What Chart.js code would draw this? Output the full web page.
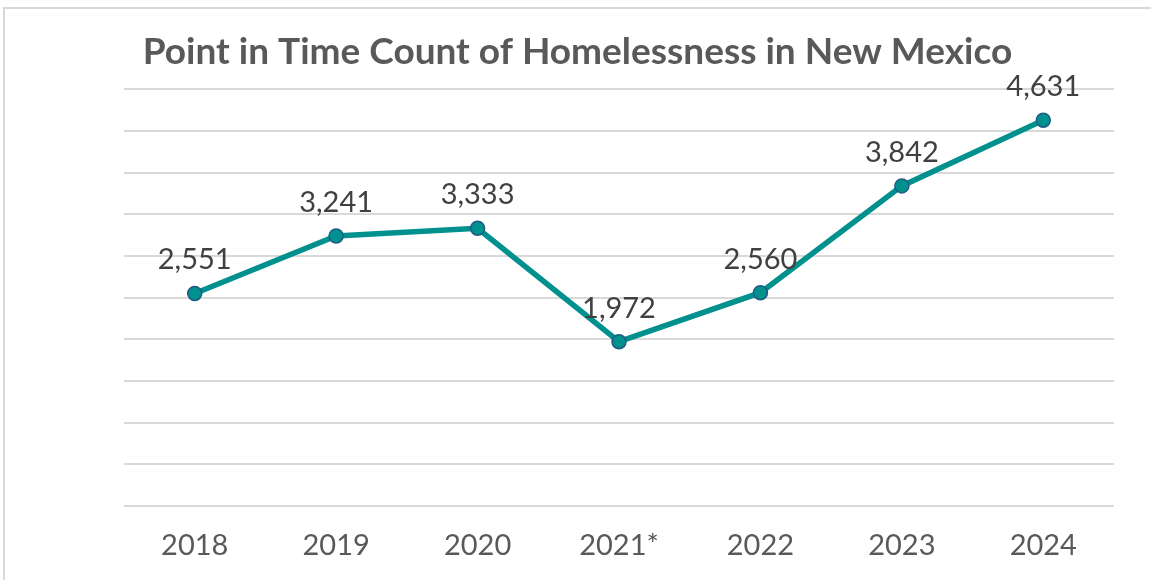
<!DOCTYPE html>
<html>
<head>
<meta charset="utf-8">
<script src="https://cdn.jsdelivr.net/npm/chart.js@4"></script>
<style>
    html, body { margin: 0; padding: 0; background: #fff; }
    #wrap { position: relative; width: 1151px; height: 580px; overflow: hidden; }
    #frame {
        position: absolute; left: 3px; top: 7px; width: 1200px; height: 600px;
        border-left: 2px solid #d9d9d9; border-top: 2px solid #d9d9d9;
    }
    canvas { position: absolute; left: 0; top: 0; }
</style>
</head>
<body>
<div id="wrap">
    <div id="frame"></div>
    <canvas id="chart" width="1151" height="580"></canvas>
</div>
<script>
    // Chart data
    const years = ['2018', '2019', '2020', '2021*', '2022', '2023', '2024'];
    const counts = [2551, 3241, 3333, 1972, 2560, 3842, 4631];
    const yTicks = [0, 500, 1000, 1500, 2000, 2500, 3000, 3500, 4000, 4500, 5000];

    const teal = '#00918e';
    const pointEdge = '#1f5b86';

    // Draw the value labels above each point
    const valueLabels = {
        id: 'valueLabels',
        afterDatasetsDraw(chart) {
            const ctx = chart.ctx;
            const meta = chart.getDatasetMeta(0);
            ctx.save();
            ctx.font = '29px Lato';
            ctx.fillStyle = '#404040';
            ctx.textAlign = 'center';
            ctx.textBaseline = 'alphabetic';
            meta.data.forEach(function(pt, i) {
                ctx.fillText(counts[i].toLocaleString('en-US'), pt.x, pt.y - 24);
            });
            ctx.restore();
        }
    };

    new Chart(document.getElementById('chart'), {
        type: 'line',
        data: {
            labels: years,
            datasets: [{
                data: counts,
                borderColor: teal,
                borderWidth: 5.5,
                backgroundColor: teal,
                pointBackgroundColor: teal,
                pointBorderColor: pointEdge,
                pointBorderWidth: 1.5,
                pointRadius: 7,
                tension: 0
            }]
        },
        options: {
            responsive: false,
            animation: false,
            layout: { padding: { left: 4, right: 0, top: 0, bottom: 0 } },
            plugins: {
                legend: { display: false },
                tooltip: { enabled: false },
                title: {
                    display: true,
                    text: 'Point in Time Count of Homelessness in New Mexico',
                    color: '#595959',
                    font: { family: 'Lato', size: 37, weight: 'bold' },
                    padding: { top: 30, bottom: 15 }
                }
            },
            scales: {
                x: {
                    offset: true,
                    grid: { display: false, drawTicks: false },
                    border: { display: false },
                    ticks: {
                        color: '#595959',
                        font: { family: 'Lato', size: 29 },
                        padding: 22
                    },
                    afterFit(scale) { scale.height = 74; }
                },
                y: {
                    min: yTicks[0],
                    max: yTicks[yTicks.length - 1],
                    afterBuildTicks(scale) {
                        scale.ticks = yTicks.map(v => ({ value: v }));
                    },
                    afterFit(scale) { scale.width = 120; },
                    grid: { color: '#d9d9d9', lineWidth: 2, drawTicks: false },
                    border: { display: false },
                    ticks: { display: false }
                },
                spacer: {
                    position: 'right',
                    display: true,
                    afterFit(scale) { scale.width = 37; },
                    grid: { display: false, drawTicks: false },
                    border: { display: false },
                    ticks: { display: false }
                }
            }
        },
        plugins: [valueLabels]
    });
</script>
</body>
</html>
